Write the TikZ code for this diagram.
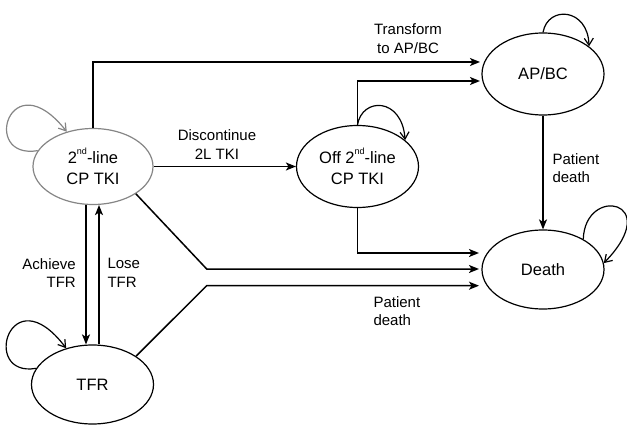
\documentclass[tikz,border=0pt]{standalone}
\usepackage{fontspec}
\setmainfont{Liberation Sans}
\usetikzlibrary{arrows.meta,shapes.geometric}
\definecolor{stategray}{HTML}{858585}
\newcommand{\supnd}{\raisebox{0.55em}{\fontsize{9}{9}\selectfont nd}}
\begin{document}
\begin{tikzpicture}[x=1pt,y=-1pt,
  state/.style={draw=black, line width=1.2pt, ellipse, inner sep=0pt, align=center,
    font=\fontsize{16.5}{21}\selectfont},
  lbl/.style={inner sep=0pt, font=\fontsize{15}{18.5}\selectfont},
  arr/.style={draw=black, line width=1.5pt, -{Stealth[length=10pt,width=8pt,inset=2.5pt]}},
  selfloop/.style={draw=black, line width=1.2pt, -{Straight Barb[length=7pt,width=9pt]}}]
\useasboundingbox (0,0) rectangle (627,425);

% states
\node[state, draw=stategray, minimum width=120pt, minimum height=76pt] (n2) at (93,166.5) {2\supnd-line\\CP TKI};
\node[state, minimum width=122pt, minimum height=82pt] (off) at (357.5,166.5) {Off 2\supnd-line\\CP TKI};
\node[state, minimum width=122pt, minimum height=82pt] (apbc) at (543,74) {AP/BC};
\node[state, minimum width=122pt, minimum height=79pt] (death) at (543,269.5) {Death};
\node[state, minimum width=122pt, minimum height=79pt] (tfr) at (92.5,384.5) {TFR};

% free ends / bends
\coordinate (a1) at (480,62);
\coordinate (a2) at (480,81);
\coordinate (d1) at (479,253);
\coordinate (k1) at (206.7,269);
\coordinate (d2) at (479,269);
\coordinate (k2) at (206.7,285.7);
\coordinate (d3) at (479,285.7);

% connectors
\draw[arr] (n2.north) |- (a1);
\draw[arr] (off.north) |- (a2);
\draw[arr] (n2.east) -- (off.west);
\draw[arr] (off.south) |- (d1);
\draw[arr] (n2.south east) -- (k1) -- (d2);
\draw[arr] (tfr.north east) -- (k2) -- (d3);
\draw[arr] (apbc.south) -- (death.north);
\draw[arr] ([xshift=-7pt]n2.south) -- ([xshift=-6.5pt]tfr.north);
\draw[arr] ([xshift=6.5pt]tfr.north) -- ([xshift=6pt]n2.south);

% self loops
\draw[selfloop, draw=stategray] (n2.164) .. controls (-20,160) and (10,60) .. (n2.127);
\draw[selfloop] (tfr.164) .. controls (-20,378) and (10,274) .. (tfr.126);
\draw[selfloop] (off.north) .. controls (362,97) and (402,97) .. (off.29);
\draw[selfloop] (apbc.north) .. controls (548,5) and (588,8) .. (apbc.31);
\draw[selfloop] (death.37) .. controls (585,185) and (665,200) .. (death.6);

% labels
\node[lbl, align=center] (lt) at (408,38.5) {Transform\\to AP/BC};
\node[lbl, align=center] (ld) at (217,144.5) {Discontinue\\2L TKI};
\node[lbl, align=left, anchor=west] (lp1) at (552.3,168) {Patient\\death};
\node[lbl, align=left, anchor=west] (lp2) at (373.3,311) {Patient\\death};
\node[lbl, align=right, anchor=east] (la) at (76,273) {Achieve\\TFR};
\node[lbl, align=left, anchor=west] (ll) at (107.3,273) {Lose\\TFR};
\end{tikzpicture}
\end{document}
